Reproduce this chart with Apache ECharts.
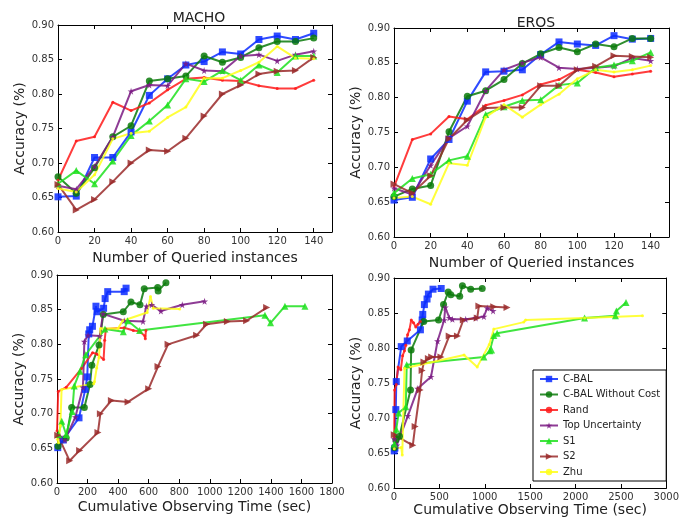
<!DOCTYPE html>
<html>
<head>
<meta charset="utf-8">
<script src="https://cdn.jsdelivr.net/npm/echarts@6/dist/echarts.min.js"></script>
<style>
html, body { margin: 0; padding: 0; background: #fff; }
#main { width: 682px; height: 519px; }
</style>
</head>
<body>
<div id="main"></div>
<script>
var chartDom = document.getElementById('main');
var myChart = echarts.init(chartDom);
var option;

// methods, same order in every array below
let methods = ['C-BAL', 'C-BAL Without Cost', 'Rand', 'Top Uncertainty', 'S1', 'S2', 'Zhu'];
let queried = [0, 10, 20, 30, 40, 50, 60, 70, 80, 90, 100, 110, 120, 130, 140];
let accTicks = [0.60, 0.65, 0.70, 0.75, 0.80, 0.85, 0.90];

// accuracy vs number of queried instances
let machoQueryAcc = [
  [0.651, 0.652, 0.708, 0.708, 0.745, 0.798, 0.822, 0.842, 0.847, 0.861, 0.858, 0.879, 0.884, 0.879, 0.888],
  [0.680, 0.656, 0.693, 0.738, 0.754, 0.819, 0.822, 0.826, 0.855, 0.846, 0.853, 0.867, 0.876, 0.876, 0.881],
  [0.675, 0.732, 0.738, 0.788, 0.776, 0.787, 0.806, 0.822, 0.824, 0.820, 0.819, 0.812, 0.808, 0.808, 0.820],
  [0.667, 0.662, 0.695, 0.738, 0.804, 0.813, 0.812, 0.844, 0.834, 0.833, 0.855, 0.857, 0.848, 0.857, 0.862],
  [0.670, 0.689, 0.670, 0.703, 0.740, 0.761, 0.784, 0.822, 0.818, 0.834, 0.820, 0.842, 0.831, 0.855, 0.855],
  [0.669, 0.632, 0.647, 0.673, 0.700, 0.719, 0.717, 0.736, 0.768, 0.800, 0.813, 0.829, 0.833, 0.834, 0.853],
  [0.663, 0.658, 0.683, 0.735, 0.743, 0.746, 0.766, 0.781, 0.823, 0.823, 0.834, 0.846, 0.869, 0.852, 0.851]
];
let erosQueryAcc = [
  [0.653, 0.657, 0.712, 0.740, 0.795, 0.837, 0.838, 0.840, 0.862, 0.880, 0.877, 0.875, 0.889, 0.884, 0.885],
  [0.658, 0.669, 0.674, 0.751, 0.802, 0.810, 0.826, 0.849, 0.863, 0.872, 0.866, 0.877, 0.873, 0.885, 0.885],
  [0.672, 0.740, 0.748, 0.773, 0.769, 0.789, 0.796, 0.804, 0.819, 0.826, 0.840, 0.836, 0.830, 0.834, 0.838],
  [0.670, 0.661, 0.703, 0.742, 0.759, 0.810, 0.840, 0.850, 0.858, 0.843, 0.841, 0.843, 0.845, 0.857, 0.853],
  [0.663, 0.684, 0.690, 0.710, 0.716, 0.776, 0.787, 0.796, 0.797, 0.818, 0.821, 0.843, 0.847, 0.853, 0.865],
  [0.676, 0.663, 0.688, 0.741, 0.768, 0.785, 0.786, 0.786, 0.817, 0.817, 0.840, 0.845, 0.860, 0.859, 0.858],
  [0.656, 0.658, 0.647, 0.706, 0.703, 0.772, 0.790, 0.772, 0.790, 0.805, 0.827, 0.840, 0.837, 0.840, 0.846]
];

// accuracy vs cumulative observing time (sec)
let machoTime = [
  [5, 40, 144, 185, 198, 208, 214, 232, 255, 262, 305, 315, 332, 440, 452],
  [7, 60, 96, 179, 216, 228, 275, 303, 434, 484, 543, 571, 659, 662, 713],
  [0, 8, 60, 160, 233, 260, 305, 312, 320, 440, 500, 540, 575, 578, 582],
  [20, 52, 120, 170, 179, 203, 280, 301, 440, 563, 585, 620, 680, 820, 966],
  [10, 31, 60, 100, 113, 150, 188, 314, 434, 462, 541, 1361, 1398, 1492, 1623],
  [5, 83, 148, 268, 284, 356, 465, 600, 661, 727, 914, 979, 1115, 1241, 1372],
  [3, 10, 22, 30, 240, 245, 260, 275, 285, 400, 430, 590, 612, 630, 803]
];
let machoTimeAcc = [
  [0.651, 0.662, 0.694, 0.735, 0.753, 0.815, 0.821, 0.826, 0.855, 0.847, 0.852, 0.866, 0.876, 0.876, 0.881],
  [0.653, 0.665, 0.709, 0.709, 0.742, 0.770, 0.799, 0.843, 0.847, 0.861, 0.857, 0.880, 0.882, 0.877, 0.889],
  [0.675, 0.732, 0.738, 0.765, 0.788, 0.786, 0.778, 0.806, 0.822, 0.824, 0.820, 0.819, 0.812, 0.808, 0.820],
  [0.667, 0.662, 0.695, 0.738, 0.804, 0.813, 0.812, 0.844, 0.834, 0.833, 0.855, 0.857, 0.848, 0.857, 0.862],
  [0.670, 0.689, 0.670, 0.703, 0.740, 0.761, 0.785, 0.822, 0.818, 0.834, 0.820, 0.842, 0.831, 0.855, 0.855],
  [0.669, 0.632, 0.647, 0.673, 0.700, 0.719, 0.717, 0.736, 0.768, 0.800, 0.813, 0.829, 0.833, 0.834, 0.853],
  [0.663, 0.658, 0.683, 0.735, 0.743, 0.746, 0.766, 0.781, 0.823, 0.823, 0.834, 0.846, 0.869, 0.852, 0.851]
];
let erosTime = [
  [2, 10, 20, 25, 80, 146, 291, 310, 317, 335, 364, 379, 430, 520],
  [5, 20, 60, 182, 189, 328, 491, 546, 597, 626, 724, 754, 845, 972],
  [2, 7, 25, 45, 75, 95, 115, 130, 150, 170, 190, 215, 240, 265, 290],
  [5, 30, 153, 262, 408, 480, 553, 565, 610, 644, 790, 900, 990, 1027, 1092],
  [5, 25, 51, 130, 140, 990, 1056, 1075, 1100, 1136, 2100, 2440, 2450, 2556],
  [3, 207, 233, 288, 310, 330, 379, 415, 517, 608, 699, 764, 917, 935, 1099, 1245],
  [3, 80, 91, 116, 772, 917, 1050, 1100, 1430, 1450, 2100, 2738]
];
let erosTimeAcc = [
  [0.653, 0.657, 0.712, 0.752, 0.802, 0.810, 0.826, 0.840, 0.848, 0.862, 0.870, 0.877, 0.884, 0.885],
  [0.658, 0.669, 0.674, 0.740, 0.797, 0.838, 0.840, 0.862, 0.880, 0.876, 0.874, 0.889, 0.884, 0.885],
  [0.672, 0.740, 0.748, 0.773, 0.769, 0.789, 0.796, 0.804, 0.819, 0.826, 0.840, 0.836, 0.830, 0.834, 0.838],
  [0.670, 0.661, 0.703, 0.742, 0.759, 0.810, 0.840, 0.858, 0.843, 0.841, 0.841, 0.843, 0.845, 0.857, 0.853],
  [0.663, 0.684, 0.707, 0.716, 0.776, 0.787, 0.796, 0.797, 0.818, 0.821, 0.843, 0.846, 0.853, 0.865],
  [0.676, 0.661, 0.688, 0.740, 0.768, 0.780, 0.785, 0.787, 0.787, 0.817, 0.817, 0.840, 0.843, 0.860, 0.859, 0.858],
  [0.656, 0.658, 0.647, 0.771, 0.790, 0.773, 0.805, 0.827, 0.837, 0.840, 0.843, 0.846]
];

let colors = ['#0a2cff', '#0a7a0a', '#ff1a1a', '#7a1a82', '#1fe01f', '#9a2a2a', '#ffff1a'];
let star = 'path://M50,0 L61,35 L98,35 L68,57 L79,91 L50,70 L21,91 L32,57 L2,35 L39,35 Z';
let rightTri = 'path://M0,0 L10,5 L0,10 Z';
let symbols = ['rect', 'circle', 'circle', star, 'triangle', rightTri, 'circle'];
let symbolSizes = [7, 7, 3, 7, 7, 7, 3];

let font = 'DejaVu Sans';
let grids = [
  { left: 58, right: 350, top: 25, bottom: 287 },
  { left: 394, right: 13, top: 28, bottom: 282 },
  { left: 57, right: 350, top: 275, bottom: 36 },
  { left: 394, right: 14, top: 278, bottom: 31 }
];
let xSpecs = [
  { max: 150, interval: 20, name: 'Number of Queried instances', gap: 19, hideMax: true },
  { max: 150, interval: 20, name: 'Number of Queried instances', gap: 19, hideMax: true },
  { max: 1800, interval: 200, name: 'Cumulative Observing Time (sec)', gap: 17, hideMax: false },
  { max: 3000, interval: 500, name: 'Cumulative Observing Time (sec)', gap: 13, hideMax: false }
];
let yGaps = [31, 31, 28, 31];

let xAxes = [], yAxes = [];
grids.forEach(function (g, i) {
  let xs = xSpecs[i];
  xAxes.push({
    gridIndex: i, type: 'value', position: 'bottom', min: 0, max: xs.max, interval: xs.interval,
    name: xs.name, nameLocation: 'middle', nameGap: xs.gap,
    nameTextStyle: { fontFamily: font, fontSize: 14, color: '#222' },
    axisLine: { show: true, onZero: false, lineStyle: { color: '#000', width: 1 } },
    axisTick: { show: true, inside: true, length: 4, lineStyle: { color: '#000' } },
    axisLabel: { fontFamily: font, fontSize: 10, color: '#333', margin: 4, showMaxLabel: !xs.hideMax,
      formatter: function (v) { return String(v); } },
    splitLine: { show: false }
  });
  xAxes.push({
    gridIndex: i, type: 'value', position: 'top', min: 0, max: xs.max, interval: xs.interval,
    axisLine: { show: true, onZero: false, lineStyle: { color: '#000', width: 1 } },
    axisTick: { show: true, inside: true, length: 4, lineStyle: { color: '#000' } },
    axisLabel: { show: false }, splitLine: { show: false }
  });
  yAxes.push({
    gridIndex: i, type: 'value', position: 'left', min: accTicks[0], max: accTicks[accTicks.length - 1], interval: 0.05,
    name: 'Accuracy (%)', nameLocation: 'middle', nameGap: yGaps[i],
    nameTextStyle: { fontFamily: font, fontSize: 14, color: '#222' },
    axisLine: { show: true, onZero: false, lineStyle: { color: '#000', width: 1 } },
    axisTick: { show: true, inside: true, length: 4, lineStyle: { color: '#000' } },
    axisLabel: { fontFamily: font, fontSize: 10, color: '#333', margin: 4,
      formatter: function (v) { return v.toFixed(2); } },
    splitLine: { show: false }
  });
  yAxes.push({
    gridIndex: i, type: 'value', position: 'right', min: accTicks[0], max: accTicks[accTicks.length - 1], interval: 0.05,
    axisLine: { show: true, onZero: false, lineStyle: { color: '#000', width: 1 } },
    axisTick: { show: true, inside: true, length: 4, lineStyle: { color: '#000' } },
    axisLabel: { show: false }, splitLine: { show: false }
  });
});

let series = [];
function addPanel(gi, xsList, ysList) {
  methods.forEach(function (m, k) {
    let xs = xsList[k], ys = ysList[k];
    series.push({
      name: m,
      type: 'line',
      xAxisIndex: gi * 2,
      yAxisIndex: gi * 2,
      data: ys.map(function (y, j) { return [xs[j], y]; }),
      symbol: symbols[k],
      symbolSize: symbolSizes[k],
      showAllSymbol: true,
      itemStyle: { color: colors[k], opacity: 0.85 },
      lineStyle: { color: colors[k], width: 2, opacity: 0.85 },
      emphasis: { disabled: true },
      animation: false
    });
  });
}
addPanel(0, methods.map(function () { return queried; }), machoQueryAcc);
addPanel(1, methods.map(function () { return queried; }), erosQueryAcc);
addPanel(2, machoTime, machoTimeAcc);
addPanel(3, erosTime, erosTimeAcc);

option = {
  backgroundColor: '#fff',
  animation: false,
  title: [
    { text: 'MACHO', left: 194, top: 6, textAlign: 'center',
      textStyle: { fontFamily: font, fontSize: 14, fontWeight: 'normal', color: '#222' } },
    { text: 'EROS', left: 531, top: 11, textAlign: 'center',
      textStyle: { fontFamily: font, fontSize: 14, fontWeight: 'normal', color: '#222' } }
  ],
  legend: {
    data: methods,
    orient: 'vertical',
    left: 533,
    top: 370,
    itemWidth: 18,
    itemHeight: 8,
    itemGap: 5.5,
    padding: [4, 6, 4, 6],
    borderColor: '#000',
    borderWidth: 1,
    borderRadius: 0,
    backgroundColor: '#fff',
    textStyle: { fontFamily: font, fontSize: 10, color: '#222' }
  },
  grid: grids,
  xAxis: xAxes,
  yAxis: yAxes,
  series: series
};

option && myChart.setOption(option);
</script>
</body>
</html>
